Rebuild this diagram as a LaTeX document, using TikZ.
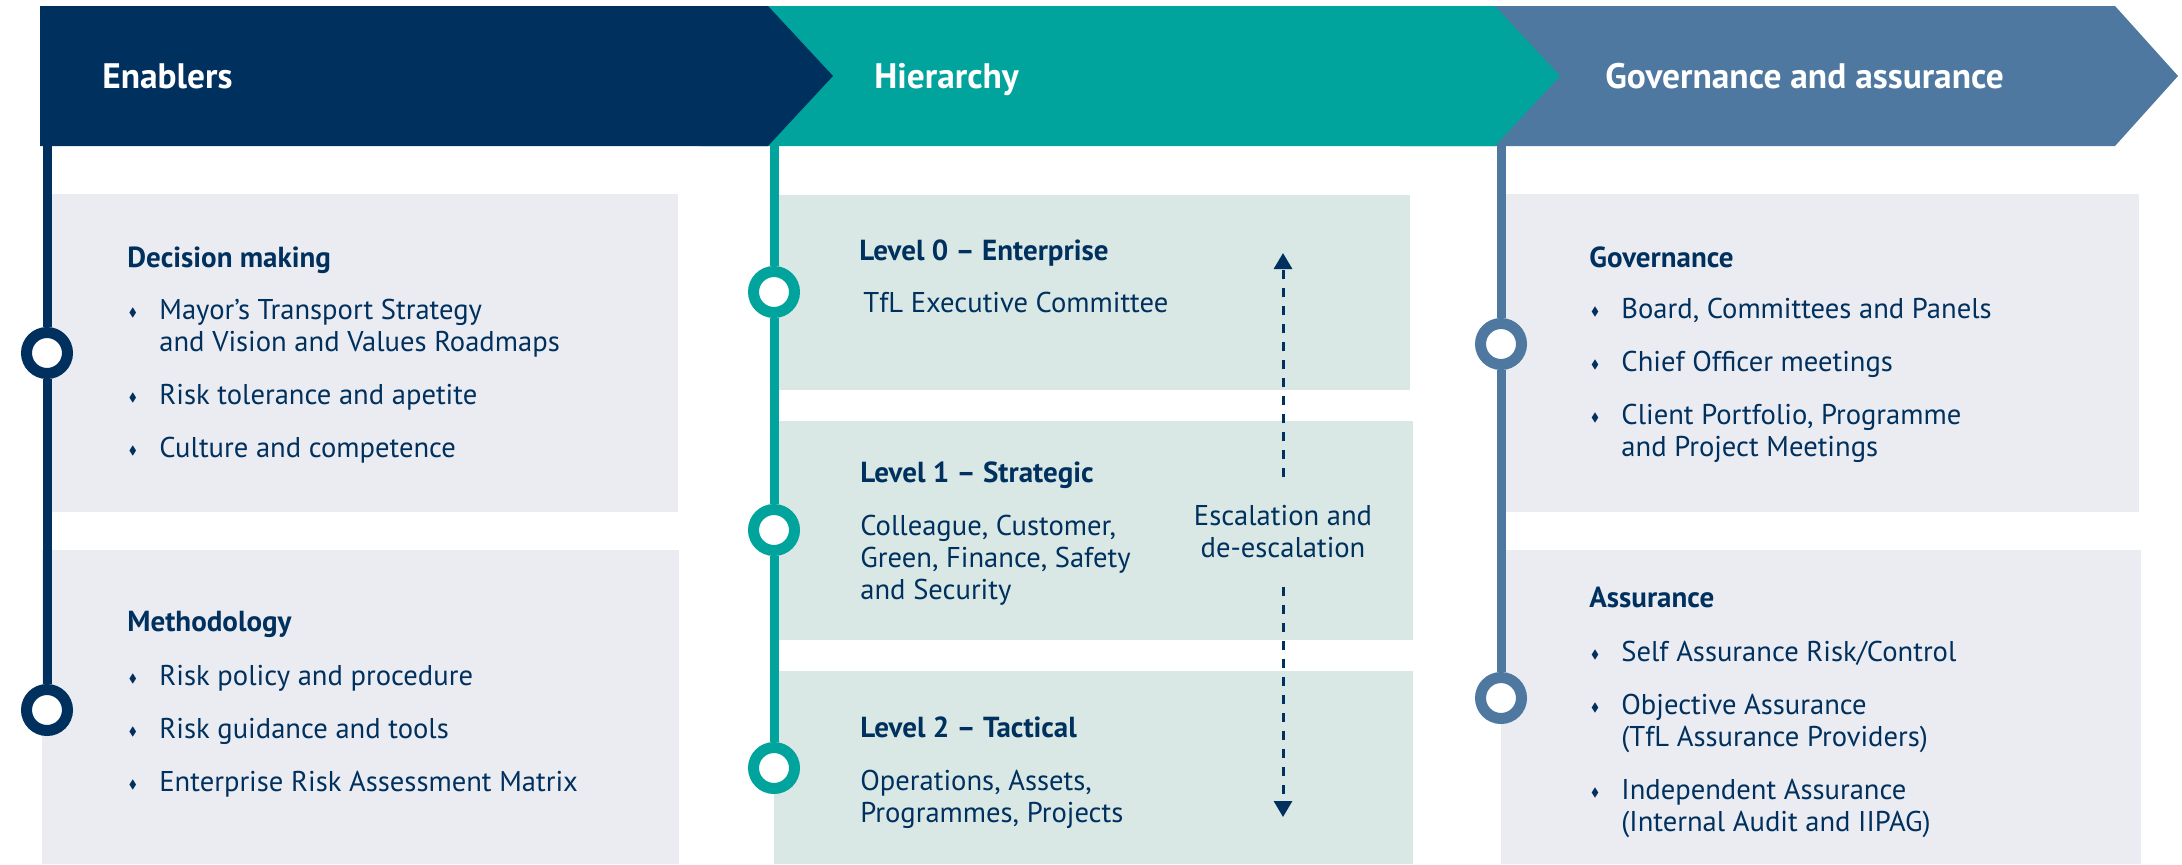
\documentclass[tikz,border=0pt]{standalone}
\usepackage{fontspec}
\setmainfont{PT Sans}
\usepackage{amssymb}
\usetikzlibrary{arrows.meta}
\definecolor{tflnavy}{RGB}{0,48,94}
\definecolor{tflteal}{RGB}{0,164,156}
\definecolor{tflsteel}{RGB}{78,120,160}
\definecolor{boxgrey}{RGB}{235,236,241}
\definecolor{boxteal}{RGB}{217,232,229}
\newcommand{\bul}{\llap{\raisebox{1.8pt}{\scalebox{0.42}{$\blacklozenge$}}\hspace{11.2pt}}}
\begin{document}
\begin{tikzpicture}[x=0.5pt,y=-0.5pt,
      ring/.style={draw=#1,circle,fill=white,line width=5.5pt,inner sep=0pt,minimum size=20.5pt},
      rail/.style={draw=#1,line width=4.5pt},
      head/.style={anchor=west,inner sep=0pt,text height=12.7pt,text depth=0pt,text=white,font=\fontsize{17.7}{20}\selectfont\bfseries},
      title/.style={anchor=north west,inner sep=0pt,text=tflnavy,font=\fontsize{14.5}{16}\selectfont\bfseries},
      body/.style={anchor=north west,inner sep=0pt,text=tflnavy,align=left,font=\fontsize{14.3}{16}\selectfont},
      escline/.style={draw=tflnavy,line width=1.5pt,dash pattern=on 4.5pt off 4.5pt,-{Triangle[width=9pt,length=8pt]}}]
    \useasboundingbox (0,0) rectangle (2182,864);
    % Kotak latar
    \fill[boxgrey] (47,194) rectangle (678,512);
    \fill[boxgrey] (42,550) rectangle (679,864);
    \fill[boxteal] (774,195) rectangle (1410,390);
    \fill[boxteal] (774,421) rectangle (1413,640);
    \fill[boxteal] (774,671) rectangle (1413,864);
    \fill[boxgrey] (1501,194) rectangle (2139,512);
    \fill[boxgrey] (1501,550) rectangle (2141,864);
    % Header chevrons
    \fill[tflsteel] (1400,6) -- (2115,6) -- (2178,76) -- (2115,146) -- (1400,146) -- cycle;
    \fill[tflteal] (700,6) -- (1495,6) -- (1560,76) -- (1495,146) -- (700,146) -- cycle;
    \fill[tflnavy] (40,6) -- (768,6) -- (833,76) -- (768,146) -- (40,146) -- cycle;
    \node[head] (hena) at (102,76) {Enablers};
    \node[head] (hhie) at (874,76) {Hierarchy};
    \node[head] (hgov) at (1605,76) {Governance and assurance};
    % Rails and rings
    \coordinate (ena) at (47,146);
    \coordinate (hie) at (774,146);
    \coordinate (gova) at (1501,146);
    \node[ring=tflnavy] (r11) at (47,353) {};
    \node[ring=tflnavy] (r12) at (47,710) {};
    \node[ring=tflteal] (r21) at (774,292) {};
    \node[ring=tflteal] (r22) at (774,530) {};
    \node[ring=tflteal] (r23) at (774,768) {};
    \node[ring=tflsteel] (r31) at (1501,344) {};
    \node[ring=tflsteel] (r32) at (1501,698) {};
    \draw[rail=tflnavy] (ena) -- (r11) (r11) -- (r12);
    \draw[rail=tflteal] (hie) -- (r21) (r21) -- (r22) (r22) -- (r23);
    \draw[rail=tflsteel] (gova) -- (r31) (r31) -- (r32);
    % Enablers
    \node[title] (dm) at (127,246) {Decision making};
    \node[body] (dmlist) at (159,299) {\bul Mayor's Transport Strategy\\ and Vision and Values Roadmaps\\[10.5pt]
      \bul Risk tolerance and apetite\\[10.5pt] \bul Culture and competence};
    \node[title] (meth) at (127,611) {Methodology};
    \node[body] (methlist) at (159,665) {\bul Risk policy and procedure\\[10.5pt]
      \bul Risk guidance and tools\\[10.5pt] \bul Enterprise Risk Assessment Matrix};
    % Hierarchy
    \node[title] (l0) at (859,239) {Level 0 -- Enterprise};
    \node[body] (l0txt) at (863,292) {TfL Executive Committee};
    \node[title] (l1) at (860,461) {Level 1 -- Strategic};
    \node[body] (l1txt) at (860,515) {Colleague, Customer,\\ Green, Finance, Safety\\ and Security};
    \node[title] (l2) at (860,716) {Level 2 -- Tactical};
    \node[body] (l2txt) at (860,770) {Operations, Assets,\\ Programmes, Projects};
    \node[body,anchor=center,align=center,inner xsep=0pt,inner ysep=14pt] (esc) at (1283,532)
      {Escalation and\\ de-escalation};
    \coordinate (escup) at (1283,253);
    \coordinate (escdown) at (1283,817);
    \draw[escline] (esc) -- (escup);
    \draw[escline] (esc) -- (escdown);
    % Governance and assurance
    \node[title] (gov) at (1589,246) {Governance};
    \node[body] (govlist) at (1621,298) {\bul Board, Committees and Panels\\[10.5pt]
      \bul Chief Officer meetings\\[10.5pt] \bul Client Portfolio, Programme\\ and Project Meetings};
    \node[title] (ass) at (1589,587) {Assurance};
    \node[body] (asslist) at (1621,641) {\bul Self Assurance Risk/Control\\[10.5pt]
      \bul Objective Assurance\\ (TfL Assurance Providers)\\[10.5pt]
      \bul Independent Assurance\\ (Internal Audit and IIPAG)};
  \end{tikzpicture}
\end{document}
